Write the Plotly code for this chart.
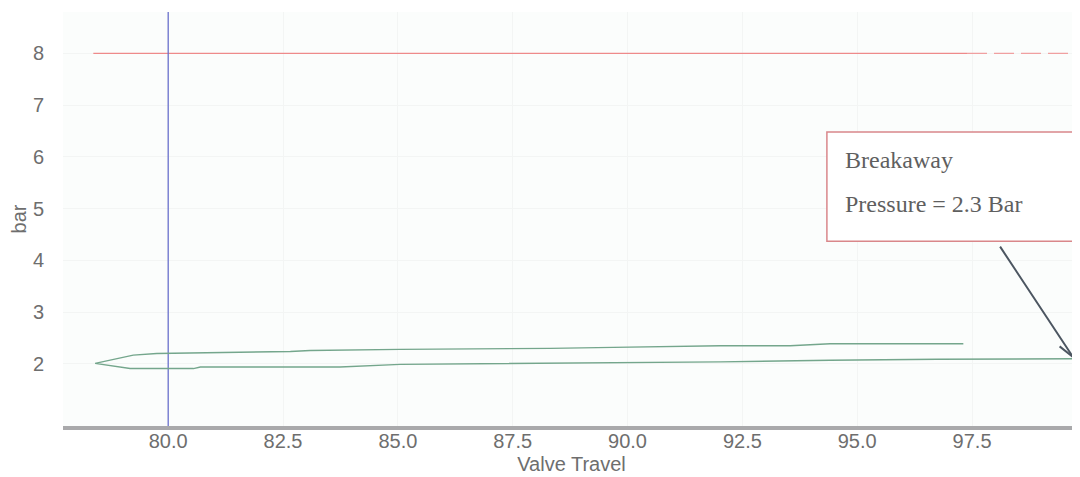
import plotly.graph_objects as go

# Data
travel_upper = [97.31, 94.41, 93.54, 92.02, 89.69, 88.32, 85.05, 83.09, 82.66, 79.75, 79.24, 78.41]
bar_upper = [2.39, 2.39, 2.35, 2.35, 2.32, 2.30, 2.28, 2.26, 2.24, 2.20, 2.17, 2.01]
travel_lower = [78.41, 79.17, 80.55, 80.70, 83.74, 85.05, 88.69, 92.02, 94.41, 96.74, 99.70]
bar_lower = [2.01, 1.91, 1.91, 1.94, 1.94, 1.99, 2.01, 2.04, 2.07, 2.09, 2.10]

limit_solid_x = [78.37, 97.39]
limit_dash_x = [97.39, 99.74]
limit_y = [8, 8]

marker_x = [80, 80]
marker_y = [0.8, 8.8]

x_ticks = [80.0, 82.5, 85.0, 87.5, 90.0, 92.5, 95.0, 97.5]
y_ticks = [2, 3, 4, 5, 6, 7, 8]

x_range = [77.71, 99.85]
y_range = [0.8, 8.8]

fig = go.Figure()

fig.add_trace(go.Scatter(x=limit_solid_x, y=limit_y, mode="lines",
                         line=dict(color="#ee8a8a", width=1.3), hoverinfo="skip"))
fig.add_trace(go.Scatter(x=limit_dash_x, y=limit_y, mode="lines",
                         line=dict(color="#f0a0a0", width=1.3, dash="20px,7px"), hoverinfo="skip"))
fig.add_trace(go.Scatter(x=marker_x, y=marker_y, mode="lines",
                         line=dict(color="#6a70cc", width=1.3), hoverinfo="skip"))
fig.add_trace(go.Scatter(x=travel_upper + travel_lower[1:], y=bar_upper + bar_lower[1:],
                         mode="lines", line=dict(color="#74a68c", width=1.4), hoverinfo="skip"))

# Annotation box
fig.add_shape(type="rect", x0=94.34, x1=99.79, y0=4.37, y1=6.48,
              line=dict(color="#d9878a", width=1.5), fillcolor="white", layer="above")
serif = dict(family="Liberation Serif, Times New Roman, serif", size=24, color="#5f5f5f")
fig.add_annotation(x=94.34, y=6.48, xref="x", yref="y", xanchor="left", yanchor="top",
                   xshift=16, yshift=-13, showarrow=False, text="Breakaway", font=serif)
fig.add_annotation(x=94.34, y=6.48, xref="x", yref="y", xanchor="left", yanchor="top",
                   xshift=16, yshift=-57, showarrow=False, text="Pressure = 2.3 Bar", font=serif)

# Arrow from box to curve end
tip_x, tip_y = travel_lower[-1], 2.13
arrow_col = "#4c5661"
fig.add_annotation(x=tip_x, y=tip_y, ax=-74, ay=-112, xref="x", yref="y",
                   showarrow=True, arrowhead=0, arrowwidth=2, arrowcolor=arrow_col,
                   standoff=0, text="")
fig.add_annotation(x=tip_x, y=tip_y, ax=-15, ay=-12, xref="x", yref="y",
                   showarrow=True, arrowhead=0, arrowwidth=2, arrowcolor=arrow_col,
                   standoff=0, text="")
fig.add_annotation(x=tip_x, y=tip_y, ax=3, ay=-21, xref="x", yref="y",
                   showarrow=True, arrowhead=0, arrowwidth=2, arrowcolor=arrow_col,
                   standoff=0, text="")

tick_font = dict(family="Liberation Sans, Arial, sans-serif", size=20, color="#6e6e6e")

fig.update_layout(
    width=1072, height=469,
    margin=dict(l=55, r=0, t=4, b=51),
    paper_bgcolor="#ffffff",
    plot_bgcolor="#fbfdfc",
    showlegend=False,
    xaxis=dict(range=x_range, tickvals=x_ticks, ticktext=[f"{v:.1f}" for v in x_ticks],
               tickfont=tick_font, showgrid=True, gridcolor="#f3f5f4", zeroline=False,
               showline=True, linecolor="#a9a9ab", linewidth=4, ticks="", automargin=False,
               ticklabelstandoff=-6,
               title=dict(text="Valve Travel", font=tick_font, standoff=7)),
    yaxis=dict(range=y_range, tickvals=y_ticks, tickfont=tick_font, automargin=False,
               ticklabelstandoff=18,
               showgrid=True, gridcolor="#f3f5f4", zeroline=False, showline=False, ticks="",
               title=dict(text="bar", font=tick_font, standoff=0)),
)

fig.write_html("out.html")
